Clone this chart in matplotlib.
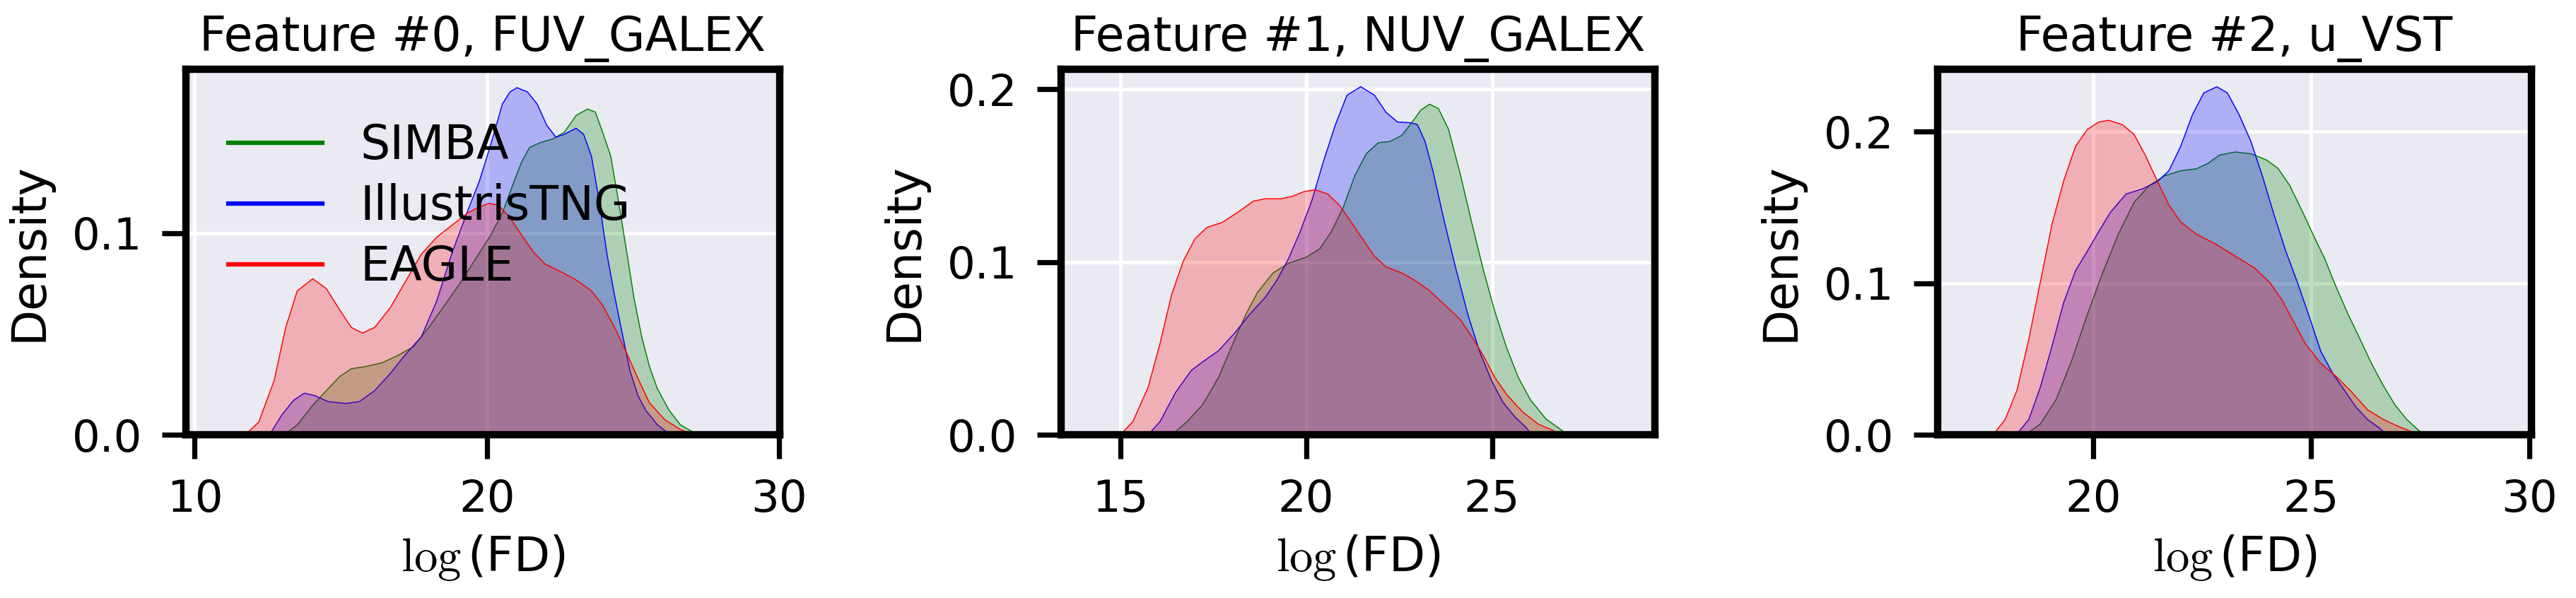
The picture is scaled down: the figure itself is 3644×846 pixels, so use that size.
import matplotlib
matplotlib.use("Agg")
import matplotlib.pyplot as plt
from matplotlib.lines import Line2D

plt.rcParams['font.family'] = ['DejaVu Sans']
plt.rcParams['mathtext.fontset'] = 'cm'

# ---------------- data ----------------
titles = ["Feature #0, FUV_GALEX", "Feature #1, NUV_GALEX", "Feature #2, u_VST"]
series_names = ["SIMBA", "IllustrisTNG", "EAGLE"]
series_colors = ["green", "blue", "red"]
xticks = [[10, 20, 30], [15, 20, 25], [20, 25, 30]]
yticks = [[0.0, 0.1], [0.0, 0.1, 0.2], [0.0, 0.1, 0.2]]
xlims = [(9.70, 30.02), (13.41, 29.38), (16.44, 30.05)]
ylims = [(0.0, 0.1814), (0.0, 0.2117), (0.0, 0.2415)]

# Feature #0 FUV_GALEX
f0_simba_x = [13.05, 13.51, 14.04, 14.57, 14.97, 15.36, 15.89, 16.42, 16.95, 17.48, 18.01, 18.54, 19.07, 19.60,
              20.13, 20.53, 20.93, 21.19, 21.46, 21.85, 22.25, 22.65, 23.05, 23.44, 23.71, 23.97, 24.24, 24.50,
              24.77, 25.03, 25.30, 25.56, 25.83, 26.23, 26.62, 27.02, 27.15]
f0_simba_y = [0.0, 0.005, 0.0147, 0.023, 0.029, 0.0328, 0.034, 0.0358, 0.0394, 0.0437, 0.0533, 0.064, 0.075, 0.087,
              0.099, 0.110, 0.1257, 0.1353, 0.1425, 0.145, 0.1467, 0.150, 0.1583, 0.1615, 0.160, 0.1496, 0.138, 0.116,
              0.092, 0.068, 0.0485, 0.034, 0.023, 0.0123, 0.005, 0.0017, 0.0]
f0_tng_x = [12.56, 12.98, 13.38, 13.75, 14.11, 14.57, 15.17, 15.63, 16.16, 16.69, 17.22, 17.75, 18.28, 18.81, 19.34,
            19.74, 20.13, 20.53, 20.79, 21.03, 21.39, 21.72, 22.05, 22.36, 22.65, 23.05, 23.31, 23.58, 23.84, 24.11,
            24.37, 24.64, 24.90, 25.17, 25.43, 25.83, 26.16, 26.2]
f0_tng_y = [0.0, 0.0099, 0.0171, 0.0207, 0.0195, 0.0165, 0.0156, 0.0165, 0.022, 0.0304, 0.040, 0.0485, 0.0663, 0.0904,
            0.111, 0.1257, 0.1438, 0.164, 0.170, 0.1721, 0.170, 0.164, 0.1534, 0.1476, 0.149, 0.152, 0.149, 0.138,
            0.116, 0.0895, 0.069, 0.0497, 0.0316, 0.0195, 0.0123, 0.0051, 0.0014, 0.0]
f0_eagle_x = [11.72, 12.19, 12.72, 13.11, 13.51, 14.04, 14.50, 14.97, 15.36, 15.74, 16.16, 16.69, 17.22, 17.75, 18.28,
              18.81, 19.34, 19.74, 20.07, 20.40, 20.79, 21.19, 21.59, 21.99, 22.52, 23.05, 23.58, 23.97, 24.37, 24.77,
              25.17, 25.56, 26.09, 26.62, 26.95, 27.0]
f0_eagle_y = [0.0, 0.0063, 0.027, 0.053, 0.0714, 0.0774, 0.0726, 0.0618, 0.0533, 0.0505, 0.0533, 0.063, 0.0762, 0.0895,
              0.098, 0.104, 0.110, 0.113, 0.1148, 0.1139, 0.1076, 0.099, 0.0907, 0.0847, 0.081, 0.0768, 0.0714, 0.064,
              0.0533, 0.041, 0.028, 0.016, 0.0075, 0.0027, 0.0008, 0.0]

# Feature #1 NUV_GALEX
f1_simba_x = [16.38, 16.80, 17.22, 17.64, 18.06, 18.38, 18.69, 19.11, 19.53, 20.0, 20.37, 20.68, 21.0, 21.31, 21.62,
              21.94, 22.25, 22.57, 22.83, 23.09, 23.32, 23.56, 23.83, 24.14, 24.45, 24.77, 25.08, 25.40, 25.71, 26.03,
              26.45, 26.87, 27.02]
f1_simba_y = [0.0, 0.0077, 0.0176, 0.0331, 0.0542, 0.0697, 0.0824, 0.0937, 0.0993, 0.1028, 0.1077, 0.1176, 0.1317,
              0.150, 0.1627, 0.169, 0.1697, 0.1732, 0.1803, 0.188, 0.1913, 0.1887, 0.1768, 0.1514, 0.1232, 0.0951,
              0.0711, 0.05, 0.0331, 0.0204, 0.0092, 0.0028, 0.0]
f1_tng_x = [15.75, 16.07, 16.49, 16.91, 17.22, 17.64, 18.06, 18.48, 18.90, 19.21, 19.53, 19.84, 20.16, 20.47, 20.79,
            21.10, 21.47, 21.84, 22.15, 22.46, 22.78, 22.99, 23.20, 23.41, 23.72, 24.04, 24.35, 24.66, 24.98, 25.29,
            25.61, 25.92, 26.08]
f1_tng_y = [0.0, 0.0077, 0.0246, 0.0373, 0.0423, 0.0486, 0.0585, 0.0697, 0.0796, 0.0894, 0.1021, 0.1176, 0.1359,
            0.1585, 0.1796, 0.1965, 0.2014, 0.1965, 0.1866, 0.181, 0.1806, 0.1796, 0.1697, 0.1528, 0.1232, 0.0951,
            0.0697, 0.0486, 0.0317, 0.019, 0.0106, 0.0042, 0.0]
f1_eagle_x = [15.0, 15.34, 15.75, 16.07, 16.38, 16.70, 17.01, 17.33, 17.75, 18.17, 18.58, 18.90, 19.32, 19.63, 19.95,
              20.24, 20.58, 20.89, 21.21, 21.52, 21.83, 22.15, 22.57, 22.88, 23.30, 23.72, 24.14, 24.45, 24.77, 25.08,
              25.40, 25.82, 26.24, 26.66, 26.76]
f1_eagle_y = [0.0, 0.0077, 0.0275, 0.0528, 0.081, 0.1007, 0.1134, 0.120, 0.123, 0.1289, 0.1352, 0.1366, 0.1366, 0.138,
              0.1408, 0.1418, 0.1394, 0.133, 0.1232, 0.1134, 0.1035, 0.0972, 0.0937, 0.090, 0.0838, 0.0754, 0.0669,
              0.057, 0.0458, 0.0331, 0.0232, 0.0134, 0.0063, 0.0024, 0.0]

# Feature #2 u_VST
f2_simba_x = [18.44, 18.79, 19.15, 19.51, 19.87, 20.22, 20.58, 20.94, 21.29, 21.65, 22.01, 22.37, 22.63, 22.90, 23.26,
              23.62, 23.97, 24.24, 24.51, 24.78, 25.04, 25.31, 25.58, 25.85, 26.12, 26.38, 26.65, 26.92, 27.19, 27.46,
              27.62]
f2_simba_y = [0.0, 0.0071, 0.0232, 0.0489, 0.0794, 0.1068, 0.1325, 0.1534, 0.1646, 0.1711, 0.1743, 0.1756, 0.1791,
              0.1847, 0.1867, 0.1855, 0.1815, 0.1759, 0.1646, 0.1486, 0.1325, 0.1164, 0.0971, 0.0794, 0.0633, 0.0473,
              0.0328, 0.0199, 0.0103, 0.0031, 0.0]
f2_tng_x = [18.24, 18.53, 18.79, 19.06, 19.33, 19.60, 19.87, 20.13, 20.40, 20.76, 21.12, 21.47, 21.74, 22.01, 22.28,
            22.54, 22.84, 23.08, 23.35, 23.62, 23.88, 24.15, 24.42, 24.69, 24.96, 25.22, 25.49, 25.76, 26.03, 26.29,
            26.56, 26.74]
f2_tng_y = [0.0, 0.0103, 0.0312, 0.0585, 0.0875, 0.1084, 0.1212, 0.1341, 0.1469, 0.159, 0.1622, 0.167, 0.1743, 0.1904,
            0.2113, 0.2257, 0.2297, 0.2257, 0.2113, 0.1936, 0.1711, 0.1453, 0.1212, 0.1003, 0.0778, 0.0553, 0.0408,
            0.0296, 0.0183, 0.0103, 0.0047, 0.0]
f2_eagle_x = [17.71, 17.99, 18.26, 18.53, 18.79, 19.06, 19.33, 19.60, 19.87, 20.13, 20.36, 20.67, 20.94, 21.21, 21.47,
              21.74, 22.01, 22.37, 22.81, 23.26, 23.71, 24.06, 24.33, 24.60, 24.87, 25.22, 25.58, 25.94, 26.29, 26.65,
              27.01, 27.37, 27.41]
f2_eagle_y = [0.0, 0.0103, 0.0296, 0.0633, 0.1003, 0.1389, 0.1678, 0.1904, 0.2016, 0.2064, 0.2076, 0.2048, 0.1984,
              0.1839, 0.1678, 0.1518, 0.1405, 0.1325, 0.126, 0.118, 0.110, 0.1003, 0.0891, 0.0746, 0.0601, 0.0473,
              0.0384, 0.028, 0.0167, 0.0103, 0.0055, 0.0014, 0.0]

panels = [
    [(f0_simba_x, f0_simba_y), (f0_tng_x, f0_tng_y), (f0_eagle_x, f0_eagle_y)],
    [(f1_simba_x, f1_simba_y), (f1_tng_x, f1_tng_y), (f1_eagle_x, f1_eagle_y)],
    [(f2_simba_x, f2_simba_y), (f2_tng_x, f2_tng_y), (f2_eagle_x, f2_eagle_y)],
]

# ---------------- figure ----------------
W, H, DPI = 3644, 846, 300
fig = plt.figure(figsize=(W / DPI, H / DPI), dpi=DPI)
lefts_px = [263.0, 1501.0, 2741.0]
width_px = 840.0
top_px, bottom_px = 97.5, 615.3

for i in range(3):
    ax = fig.add_axes([lefts_px[i] / W, (H - bottom_px) / H, width_px / W, (bottom_px - top_px) / H])
    ax.set_facecolor('#EAEAF2')
    ax.grid(True, color='white', linewidth=1.2, zorder=0)
    ax.set_axisbelow(True)
    for (xs, ys), c in zip(panels[i], series_colors):
        ax.fill_between(xs, ys, 0, facecolor=c, alpha=0.25, edgecolor='none', zorder=2)
        ax.plot(xs, ys, color=c, linewidth=0.35, zorder=2)
    ax.set_xlim(*xlims[i])
    ax.set_ylim(*ylims[i])
    ax.set_xticks(xticks[i])
    ax.set_yticks(yticks[i])
    ax.set_yticklabels([f"{v:.1f}" for v in yticks[i]])
    ax.tick_params(axis='both', which='major', direction='out', length=8.2, width=1.75,
                   labelsize=15, color='black', pad=6.7)
    for s in ax.spines.values():
        s.set_color('black')
        s.set_linewidth(2.5)
    ax.set_title(titles[i], fontsize=16, pad=6)
    ax.set_ylabel("Density", fontsize=16, labelpad=6.7)
    ax.set_xlabel(r"$\log$(FD)", fontsize=16, labelpad=4)
    if i == 0:
        handles = [Line2D([0], [0], color=c, lw=1.5) for c in series_colors]
        ax.legend(handles, series_names, loc='upper left', frameon=False, fontsize=16,
                  handlelength=2.0, handletextpad=0.8, labelspacing=0.3,
                  bbox_to_anchor=(0.0, 0.97))

fig.savefig("out.png", dpi=DPI)
